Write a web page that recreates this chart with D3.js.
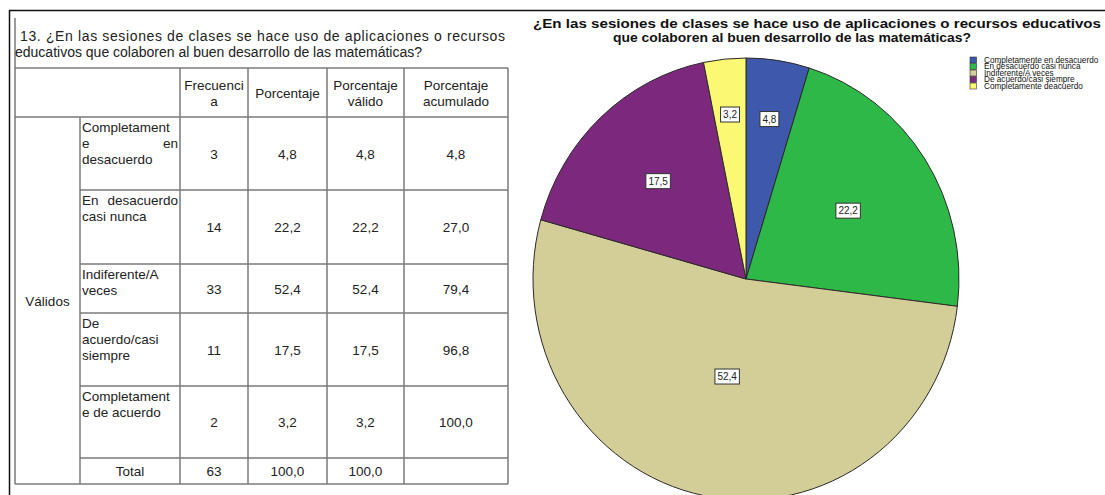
<!DOCTYPE html>
<html>
<head>
<meta charset="utf-8">
<script src="https://cdn.jsdelivr.net/npm/d3@7"></script>
<style>
  html, body { margin: 0; padding: 0; background: #fff; }
  svg { display: block; font-family: "Liberation Sans", Arial, sans-serif; }
</style>
</head>
<body>
<svg id="chart" width="1105" height="495"></svg>
<script>
// Question 13 frequency table and pie chart
const question = [
  "13. ¿En las sesiones de clases se hace uso de aplicaciones o recursos",
  "educativos que colaboren al buen desarrollo de las matemáticas?"
];
const chartTitle = [
  "¿En las sesiones de clases se hace uso de aplicaciones o recursos educativos",
  "que colaboren al buen desarrollo de las matemáticas?"
];
const categories = [
  "Completamente en desacuerdo",
  "En desacuerdo casi nunca",
  "Indiferente/A veces",
  "De acuerdo/casi siempre",
  "Completamente deacuerdo"
];
const rowLabelLines = [
  ["Completament", "e en", "desacuerdo"],
  ["En desacuerdo", "casi nunca"],
  ["Indiferente/A", "veces"],
  ["De", "acuerdo/casi", "siempre"],
  ["Completament", "e de acuerdo"]
];
const columnHeaders = [["Frecuenci", "a"], ["Porcentaje"], ["Porcentaje", "válido"], ["Porcentaje", "acumulado"]];
const frequency = [3, 14, 33, 11, 2];
const percent = [4.8, 22.2, 52.4, 17.5, 3.2];
const validPercent = [4.8, 22.2, 52.4, 17.5, 3.2];
const cumulativePercent = [4.8, 27.0, 79.4, 96.8, 100.0];
const totalFrequency = 63;
const totalPercent = 100.0;
const groupLabel = "Válidos";
const totalLabel = "Total";
const sliceColors = ["#3e58ac", "#2eb848", "#d3ce97", "#7c287d", "#fbf873"];

const fmt = d3.formatLocale({ decimal: ",", thousands: ".", grouping: [3], currency: ["", ""] }).format(".1f");

const svg = d3.select("#chart");

// outer frame
svg.append("line").attr("x1", 9).attr("x2", 1105).attr("y1", 10.5).attr("y2", 10.5)
  .attr("stroke", "#111").attr("stroke-width", 1.5);
svg.append("line").attr("x1", 9.5).attr("x2", 9.5).attr("y1", 10).attr("y2", 495)
  .attr("stroke", "#111").attr("stroke-width", 1.5);

// ---------- table ----------
const table = svg.append("g");
const colX = [15, 80, 180, 248, 327, 404, 508];
const rowY = [117, 190, 264, 313, 386, 458, 484];
const headTop = 68;
const lineCol = "#7a7a7a";
const txtCol = "#222";
const fs = 13.5;

// question text (first line justified)
table.append("line").attr("x1", 15).attr("x2", 15).attr("y1", 18).attr("y2", headTop)
  .attr("stroke", lineCol).attr("stroke-width", 1.5);
table.append("text").attr("x", 20).attr("y", 41).attr("font-size", 14).attr("fill", txtCol)
  .attr("textLength", 485).attr("lengthAdjust", "spacing").text(question[0]);
table.append("text").attr("x", 15).attr("y", 57).attr("font-size", 14).attr("fill", txtCol)
  .text(question[1]);

// grid lines
const hl = (x1, x2, y) => table.append("line").attr("x1", x1).attr("x2", x2).attr("y1", y).attr("y2", y)
  .attr("stroke", lineCol).attr("stroke-width", 1.5);
const vl = (x, y1, y2) => table.append("line").attr("x1", x).attr("x2", x).attr("y1", y1).attr("y2", y2)
  .attr("stroke", lineCol).attr("stroke-width", 1.5);
hl(15, 508, headTop);
hl(15, 508, rowY[0]);
rowY.slice(1, -1).forEach(y => hl(80, 508, y));
hl(15, 508, rowY[rowY.length - 1]);
vl(15, headTop, rowY[rowY.length - 1]);
vl(80, rowY[0], rowY[rowY.length - 1]);
colX.slice(2).forEach(x => vl(x, headTop, rowY[rowY.length - 1]));

// column headers
columnHeaders.forEach((lines, i) => {
  const cx = (colX[i + 2] + colX[i + 3]) / 2;
  const cy = (headTop + rowY[0]) / 2;
  const start = cy - (lines.length - 1) * 8 + 5;
  lines.forEach((l, j) => {
    table.append("text").attr("x", cx).attr("y", start + j * 16).attr("text-anchor", "middle")
      .attr("font-size", fs).attr("fill", txtCol).text(l);
  });
});

// group label
table.append("text").attr("x", 47.5).attr("y", (rowY[0] + rowY[rowY.length - 1]) / 2 + 5)
  .attr("text-anchor", "middle").attr("font-size", fs).attr("fill", txtCol).text(groupLabel);

// body rows
const cellLeft = 82, cellRight = 178;
categories.forEach((c, i) => {
  const top = rowY[i], bot = rowY[i + 1];
  const lines = rowLabelLines[i];
  lines.forEach((l, j) => {
    const y = top + 15 + j * 16;
    const words = l.split(" ");
    if (j < lines.length - 1 && words.length === 2) {
      table.append("text").attr("x", cellLeft).attr("y", y).attr("font-size", fs).attr("fill", txtCol).text(words[0]);
      table.append("text").attr("x", cellRight).attr("y", y).attr("text-anchor", "end").attr("font-size", fs).attr("fill", txtCol).text(words[1]);
    } else {
      table.append("text").attr("x", cellLeft).attr("y", y).attr("font-size", fs).attr("fill", txtCol).text(l);
    }
  });
  const vals = [String(frequency[i]), fmt(percent[i]), fmt(validPercent[i]), fmt(cumulativePercent[i])];
  vals.forEach((v, k) => {
    table.append("text").attr("x", (colX[k + 2] + colX[k + 3]) / 2).attr("y", (top + bot) / 2 + 5)
      .attr("text-anchor", "middle").attr("font-size", fs).attr("fill", txtCol).text(v);
  });
});

// total row
{
  const top = rowY[5], bot = rowY[6];
  const y = (top + bot) / 2 + 5;
  table.append("text").attr("x", 130).attr("y", y).attr("text-anchor", "middle").attr("font-size", fs).attr("fill", txtCol).text(totalLabel);
  [String(totalFrequency), fmt(totalPercent), fmt(totalPercent)].forEach((v, k) => {
    table.append("text").attr("x", (colX[k + 2] + colX[k + 3]) / 2).attr("y", y)
      .attr("text-anchor", "middle").attr("font-size", fs).attr("fill", txtCol).text(v);
  });
}

// ---------- pie chart ----------
svg.append("text").attr("x", 533).attr("y", 28).attr("font-size", 13.5).attr("font-weight", "bold")
  .attr("fill", "#111").attr("textLength", 568).attr("lengthAdjust", "spacingAndGlyphs").text(chartTitle[0]);
svg.append("text").attr("x", 792).attr("y", 42).attr("text-anchor", "middle").attr("font-size", 13.5)
  .attr("font-weight", "bold").attr("fill", "#111").attr("textLength", 358).attr("lengthAdjust", "spacingAndGlyphs")
  .text(chartTitle[1]);

const cx = 746, cy = 279, ry = 221, rx = 213;
const sx = rx / ry;
const pie = d3.pie().sort(null).value(d => d.v);
const slices = pie(percent.map((v, i) => ({ v, i })));
const arc = d3.arc().innerRadius(0).outerRadius(ry);

const pieG = svg.append("g").attr("transform", `translate(${cx},${cy}) scale(${sx},1)`);
pieG.selectAll("path").data(slices).join("path")
  .attr("d", arc)
  .attr("fill", d => sliceColors[d.data.i])
  .attr("stroke", "#2a2a2a").attr("stroke-width", 1).attr("vector-effect", "non-scaling-stroke");

// value labels: small slices sit nearer the rim, large ones nearer the centre
const total = d3.sum(percent);
const labelRadius = d3.scaleLinear().domain([0, 0.2, 0.5]).range([0.78, 0.58, 0.45]).clamp(true);
const labels = svg.append("g");
slices.forEach(d => {
  const a = (d.startAngle + d.endAngle) / 2;
  const r = ry * labelRadius(d.data.v / total);
  const x = cx + Math.sin(a) * r * sx;
  const y = cy - Math.cos(a) * r;
  const t = fmt(d.data.v);
  const g = labels.append("g").attr("transform", `translate(${x},${y})`);
  const txt = g.append("text").attr("text-anchor", "middle").attr("y", 3.5).attr("font-size", 10)
    .attr("fill", "#222").text(t);
  const w = txt.node().getComputedTextLength() + 5;
  g.insert("rect", "text").attr("x", -w / 2).attr("y", -7.5).attr("width", w).attr("height", 15)
    .attr("fill", "#fff").attr("stroke", "#333").attr("stroke-width", 1);
});

// legend
const legend = svg.append("g").attr("transform", "translate(970,57)");
categories.forEach((c, i) => {
  const g = legend.append("g").attr("transform", `translate(0,${i * 6.5})`);
  g.append("rect").attr("x", 0).attr("y", 0).attr("width", 6.5).attr("height", 6)
    .attr("fill", sliceColors[i]).attr("stroke", "#333").attr("stroke-width", 0.6);
  g.append("text").attr("x", 14).attr("y", 5.8).attr("font-size", 8.2).attr("fill", "#111").text(c);
});
</script>
</body>
</html>
